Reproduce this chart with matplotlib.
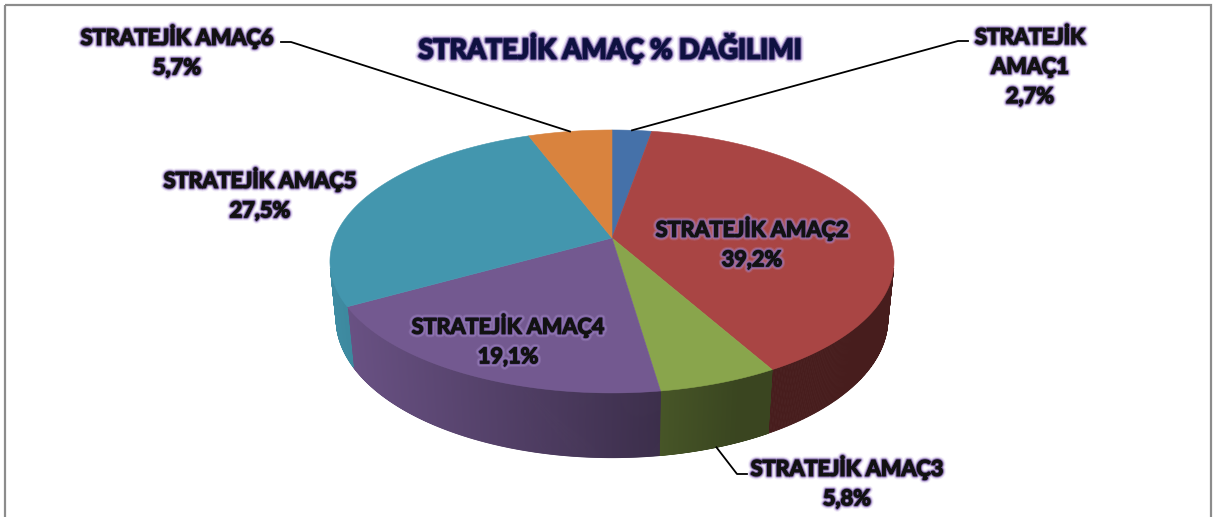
import numpy as np
import matplotlib
matplotlib.use('Agg')
import matplotlib.pyplot as plt
from matplotlib.patches import Polygon, Rectangle
import matplotlib.patheffects as pe
from matplotlib.colors import to_rgb

# ---------------- data ----------------
categories = ['STRATEJİK AMAÇ1', 'STRATEJİK AMAÇ2', 'STRATEJİK AMAÇ3',
              'STRATEJİK AMAÇ4', 'STRATEJİK AMAÇ5', 'STRATEJİK AMAÇ6']
values = [2.7, 39.2, 5.8, 19.1, 27.5, 5.7]
colors = ['#4571A9', '#A94544', '#89A54C', '#735990', '#4396AE', '#D9833E']
title = 'STRATEJİK AMAÇ % DAĞILIMI'

plt.rcParams['font.family'] = ['Lato', 'DejaVu Sans']

W, H = 1215, 517
fig = plt.figure(figsize=(W / 100, H / 100), dpi=100)
ax = fig.add_axes([0, 0, 1, 1])
ax.set_xlim(0, W)
ax.set_ylim(H, 0)
ax.axis('off')

# chart border
ax.add_patch(Rectangle((5, 5), 1206, 600, fill=False, ec='#8C8C8C', lw=1.6, zorder=0))

# ---------------- perspective 3D pie ----------------
phi = np.radians(27.3)
s, c = np.sin(phi), np.cos(phi)
D = 4.98
h = 0.235
K = 1382.0
CX, CY = 612.0, 238.0


def proj(x, y, z):
    yc = y * s + z * c
    zc = D + y * c - z * s
    return CX + K * x / zc, CY - K * yc / zc


fracs = np.array(values) / np.sum(values)
cum = np.concatenate([[0], np.cumsum(fracs)])
starts = np.pi / 2 - 2 * np.pi * cum[:-1]
ends = np.pi / 2 - 2 * np.pi * cum[1:]


def shade(col, X):
    f = max(0.42, min(0.93, 0.93 - 0.00127 * (X - 335)))
    r, g, b = to_rgb(col)
    return (r * f, g * f, b * f)


# side walls (visible front part)
for i in range(len(values)):
    a0, a1 = starts[i], ends[i]
    th = np.linspace(a0, a1, 400)
    vis = np.sin(th) < -1.0 / (D * c)
    th = th[vis]
    if len(th) < 2:
        continue
    for j in range(len(th) - 1):
        t0, t1 = th[j], th[j + 1]
        p = [proj(np.cos(t0), np.sin(t0), 0), proj(np.cos(t1), np.sin(t1), 0),
             proj(np.cos(t1), np.sin(t1), -h), proj(np.cos(t0), np.sin(t0), -h)]
        xm = np.mean([q[0] for q in p])
        ax.add_patch(Polygon(p, closed=True, fc=shade(colors[i], xm),
                             ec=shade(colors[i], xm), lw=0.6, zorder=2))

# top faces
for i in range(len(values)):
    th = np.linspace(starts[i], ends[i], 300)
    pts = [proj(0, 0, 0)] + [proj(np.cos(t), np.sin(t), 0) for t in th]
    ax.add_patch(Polygon(pts, closed=True, fc=colors[i], ec=colors[i], lw=0.4, zorder=3))

# ---------------- labels ----------------
glow = [pe.Stroke(linewidth=5.2, foreground='#B8A0DA', alpha=0.22),
        pe.Stroke(linewidth=3.6, foreground='#A68BCF', alpha=0.45),
        pe.Stroke(linewidth=2.2, foreground='#6E5498', alpha=0.85),
        pe.Stroke(linewidth=0.9, foreground='#121212'),
        pe.Normal()]
fs = 15.6
pct = [f'{v:.1f}'.replace('.', ',') + '%' for v in values]

label_text = [
    'STRATEJİK\nAMAÇ1\n' + pct[0],
    categories[1] + '\n' + pct[1],
    categories[2] + '\n' + pct[2],
    categories[3] + '\n' + pct[3],
    categories[4] + '\n' + pct[4],
    categories[5] + '\n' + pct[5],
]
label_pos = [(1030, 67), (752, 243), (847, 482), (508, 340), (260, 194), (177, 51)]
for i, (tx, ty) in enumerate(label_pos):
    ax.text(tx, ty, label_text[i], ha='center', va='center', fontsize=fs,
            fontweight='bold', color='#121212', linespacing=1.5,
            path_effects=glow, zorder=6)

# leader lines (anchored at slice middle on pie edge)
mid = (starts + ends) / 2
px, py = proj(np.cos(mid[0]), np.sin(mid[0]), 0)
ax.plot([px, 958, 968], [py, 41, 41], color='black', lw=1.3, zorder=5)
px, py = proj(np.cos(mid[5]), np.sin(mid[5]), 0)
ax.plot([px, 291, 281], [py, 42, 42], color='black', lw=1.3, zorder=5)
px, py = proj(np.cos(mid[2]), np.sin(mid[2]), -h)
ax.plot([px, 737, 747], [py, 474, 474], color='black', lw=1.3, zorder=5)

# title
ax.text(610, 48, title, ha='center', va='center', fontsize=19.5, fontweight='bold',
        color='#0E1140', zorder=6,
        path_effects=[pe.Stroke(linewidth=6, foreground='#B8A0DA', alpha=0.25),
                      pe.Stroke(linewidth=4, foreground='#A68BCF', alpha=0.5),
                      pe.Stroke(linewidth=2.4, foreground='#5E4A8E', alpha=0.9),
                      pe.Stroke(linewidth=1.0, foreground='#0E1140'),
                      pe.Normal()])

fig.savefig('out.png', dpi=100)
